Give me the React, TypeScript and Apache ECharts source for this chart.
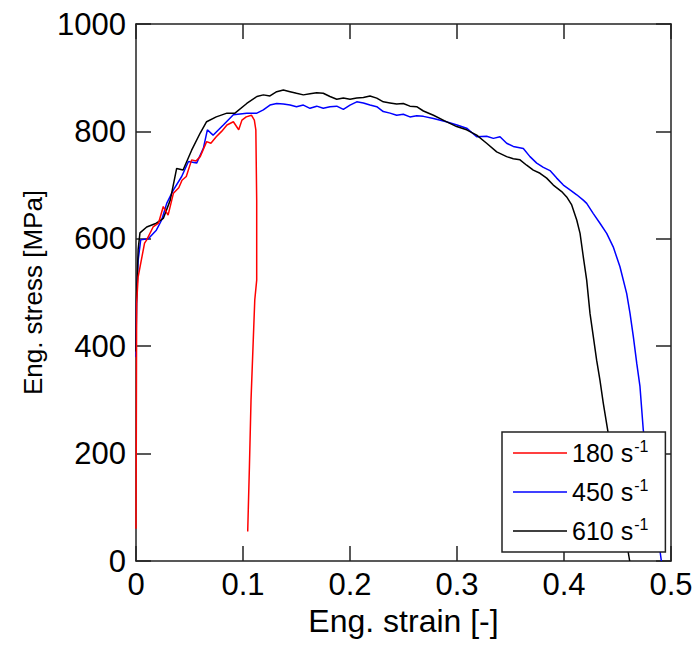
import React, { useEffect, useRef } from "react";
import * as echarts from "echarts";

// Strain-rate test data
const rateLabels = ["180", "450", "610"];

const strain180 = [0, 0.0003, 0.0006, 0.002, 0.004, 0.008, 0.010, 0.016, 0.021, 0.0255, 0.030, 0.035, 0.040, 0.043, 0.047, 0.052, 0.056, 0.060, 0.066, 0.070, 0.075, 0.080, 0.085, 0.091, 0.096, 0.099, 0.103, 0.108, 0.1106, 0.112, 0.1128, 0.1128, 0.111, 0.1096, 0.1075, 0.106, 0.1044];
const stress180 = [60, 250, 480, 529, 550, 592, 598, 622, 629, 660, 644, 685, 695, 709, 716, 747, 745, 753, 781, 778, 790, 800, 812, 818, 803, 821, 827, 830, 821, 803, 672, 523, 486, 412, 300, 176, 55];

const strain450 = [0, 0.0005, 0.002, 0.0044, 0.0115, 0.019, 0.024, 0.0287, 0.035, 0.0427, 0.049, 0.0567, 0.063, 0.0667, 0.072, 0.0816, 0.091, 0.1035, 0.113, 0.119, 0.1252, 0.1315, 0.1377, 0.144, 0.150, 0.1564, 0.1626, 0.1689, 0.175, 0.1813, 0.1876, 0.1938, 0.2, 0.2063, 0.2125, 0.2187, 0.225, 0.2311, 0.2374, 0.2436, 0.2498, 0.256, 0.2623, 0.2686, 0.278, 0.29, 0.3, 0.309, 0.3184, 0.3277, 0.334, 0.3402, 0.3464, 0.3526, 0.362, 0.3682, 0.3745, 0.3807, 0.3869, 0.3932, 0.3994, 0.4056, 0.4119, 0.418, 0.4212, 0.4274, 0.4336, 0.4399, 0.446, 0.4523, 0.4586, 0.4617, 0.4648, 0.468, 0.471, 0.4741, 0.491];
const stress450 = [380, 480, 560, 598, 600, 616, 635, 666, 691, 716, 744, 741, 769, 803, 793, 812, 831, 834, 834, 840, 849, 852, 851, 849, 846, 849, 843, 847, 843, 846, 847, 841, 849, 855, 853, 849, 846, 837, 834, 830, 832, 827, 829, 828, 824, 818, 812, 806, 790, 791, 787, 790, 778, 772, 768, 753, 741, 733, 727, 713, 700, 691, 682, 672, 666, 647, 629, 610, 585, 548, 498, 461, 418, 368, 325, 244, 0];

const strain610 = [0, 0.0005, 0.002, 0.0037, 0.010, 0.019, 0.0255, 0.032, 0.038, 0.044, 0.052, 0.060, 0.066, 0.075, 0.085, 0.0925, 0.1035, 0.113, 0.119, 0.1252, 0.1315, 0.1377, 0.144, 0.150, 0.1564, 0.1626, 0.1689, 0.175, 0.1813, 0.1876, 0.1938, 0.2, 0.2063, 0.2125, 0.2187, 0.225, 0.2311, 0.2374, 0.2436, 0.2498, 0.256, 0.2623, 0.2686, 0.278, 0.288, 0.2997, 0.309, 0.3184, 0.3277, 0.3371, 0.3464, 0.3526, 0.3589, 0.3651, 0.3713, 0.3776, 0.3838, 0.39, 0.3978, 0.4025, 0.4072, 0.4119, 0.415, 0.418, 0.4212, 0.4243, 0.4274, 0.4305, 0.4336, 0.4367, 0.4408, 0.4614];
const stress610 = [390, 490, 580, 611, 622, 629, 638, 672, 731, 728, 765, 797, 818, 827, 834, 834, 852, 865, 868, 866, 874, 877, 874, 871, 868, 870, 872, 871, 865, 860, 862, 860, 862, 863, 866, 862, 855, 853, 851, 852, 847, 846, 838, 830, 820, 809, 803, 793, 778, 762, 753, 749, 747, 737, 728, 722, 713, 700, 688, 678, 663, 635, 610, 567, 523, 461, 418, 374, 337, 294, 244, 0];

const seriesColors = ["#ff0000", "#0000ff", "#000000"];

const FONT = "'Liberation Sans', Arial, sans-serif";

function pairs(xs: number[], ys: number[]) {
  return xs.map((x, i) => [x, ys[i]]);
}

export default function App() {
  const ref = useRef<HTMLDivElement>(null);

  useEffect(() => {
    if (!ref.current) return;
    const chart = echarts.init(ref.current, null, { renderer: "svg" });
    const names = rateLabels.map((r) => r);
    const axisLine = () => ({ show: true, onZero: false, lineStyle: { color: "#222", width: 1.5 } });
    const tick = () => ({ show: true, inside: true, length: 15, lineStyle: { color: "#222", width: 1.5 } });
    const mk = (idx: number, xs: number[], ys: number[]) => ({
      name: names[idx],
      type: "line",
      data: pairs(xs, ys),
      symbol: "none",
      showSymbol: false,
      smooth: false,
      xAxisIndex: 0,
      yAxisIndex: 0,
      lineStyle: { color: seriesColors[idx], width: 1.5 },
      itemStyle: { color: seriesColors[idx] },
    });
    const numFmt = (v: number) => String(Math.round(v * 1000) / 1000);
    chart.setOption({
      animation: false,
      backgroundColor: "#fff",
      grid: { left: 136, right: 25, top: 24, bottom: 85, containLabel: false },
      xAxis: [
        {
          type: "value",
          min: 0,
          max: 0.5,
          interval: 0.1,
          position: "bottom",
          name: "Eng. strain [-]",
          nameLocation: "middle",
          nameGap: 40,
          nameTextStyle: { fontSize: 32, color: "#000", fontFamily: FONT },
          axisLine: axisLine(),
          axisTick: tick(),
          splitLine: { show: false },
          axisLabel: { fontSize: 31, color: "#000", fontFamily: FONT, margin: 8, formatter: numFmt },
        },
        {
          type: "value",
          min: 0,
          max: 0.5,
          interval: 0.1,
          position: "top",
          axisLine: axisLine(),
          axisTick: tick(),
          splitLine: { show: false },
          axisLabel: { show: false },
        },
      ],
      yAxis: [
        {
          type: "value",
          min: 0,
          max: 1000,
          interval: 200,
          position: "left",
          name: "Eng. stress [MPa]",
          nameLocation: "middle",
          nameGap: 88,
          nameTextStyle: { fontSize: 26, color: "#000", fontFamily: FONT },
          axisLine: axisLine(),
          axisTick: tick(),
          splitLine: { show: false },
          axisLabel: { fontSize: 31, color: "#000", fontFamily: FONT, margin: 10, formatter: numFmt },
        },
        {
          type: "value",
          min: 0,
          max: 1000,
          interval: 200,
          position: "right",
          axisLine: axisLine(),
          axisTick: tick(),
          splitLine: { show: false },
          axisLabel: { show: false },
        },
      ],
      legend: {
        data: names,
        orient: "vertical",
        left: 502,
        top: 432,
        icon: "rect",
        itemWidth: 54,
        itemHeight: 1.5,
        itemGap: 9,
        padding: [6, 17, 6, 11],
        backgroundColor: "#fff",
        borderColor: "#222",
        borderWidth: 1.5,
        borderRadius: 0,
        formatter: (n: string) => `{n|${n} s}{s|-1}`,
        textStyle: {
          fontFamily: FONT,
          color: "#000",
          lineHeight: 30,
          rich: {
            n: { fontSize: 25, fontFamily: FONT, color: "#000", lineHeight: 30 },
            s: { fontSize: 16, fontFamily: FONT, color: "#000", lineHeight: 30, verticalAlign: "top", padding: [0, 0, 0, 1] },
          },
        },
      },
      series: [
        mk(1, strain450, stress450),
        mk(2, strain610, stress610),
        mk(0, strain180, stress180),
      ],
    });
    return () => chart.dispose();
  }, []);

  return (
    <div
      ref={ref}
      style={{ position: "fixed", left: 0, top: 0, width: 696, height: 646, background: "#fff" }}
    />
  );
}
